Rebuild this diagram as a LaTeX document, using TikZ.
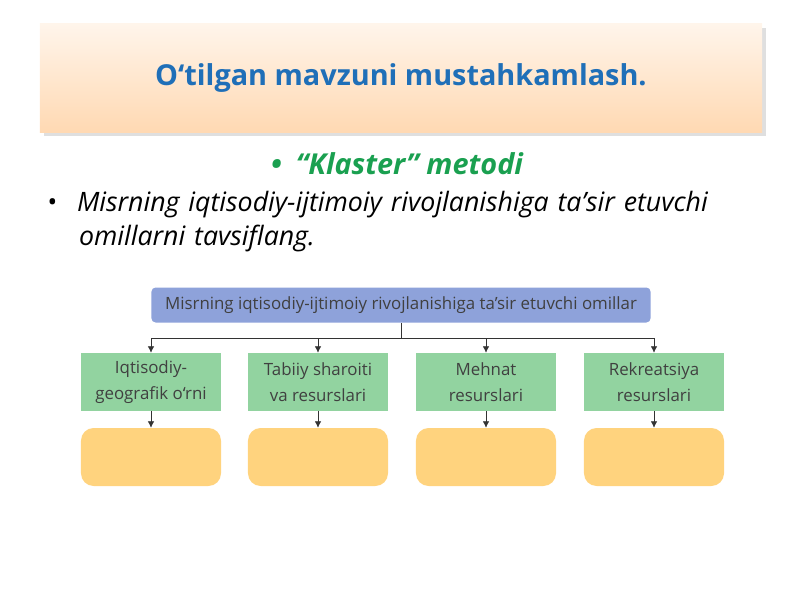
\documentclass[tikz,border=0pt]{standalone}
\usepackage{fontspec}
\setmainfont{Open Sans}
\usetikzlibrary{arrows.meta,shadows}
\definecolor{titleblue}{HTML}{1F6FB8}
\definecolor{klgreen}{HTML}{1AA050}
\definecolor{topblue}{HTML}{8EA2DA}
\definecolor{boxgreen}{HTML}{92D3A0}
\definecolor{boxyellow}{HTML}{FFD37E}
\tikzset{%
  >={Latex[width=1.6mm,length=1.6mm]},
  % node styles
  topbox/.style = {rectangle, rounded corners=3pt, fill=topblue,
                   minimum width=12.475cm, minimum height=0.875cm,
                   text=black!75, font=\fontsize{12}{14}\selectfont},
  greenbox/.style = {rectangle, fill=boxgreen, minimum width=3.5cm,
                     minimum height=1.45cm, align=center, text=black!75,
                     font=\fontsize{12}{18.5}\selectfont},
  yellowbox/.style = {rectangle, rounded corners=9pt, fill=boxyellow,
                      minimum width=3.5cm, minimum height=1.45cm}
}
\begin{document}
\begin{tikzpicture}[x=0.025cm, y=-0.025cm]
  \useasboundingbox (0,0) rectangle (800,599);
  % title
  \node (title) [rectangle, minimum width=18.05cm, minimum height=2.7cm,
    top color=orange!8, bottom color=orange!30, drop shadow={opacity=0.25},
    font=\fontsize{20.5}{24}\selectfont\bfseries, text=titleblue]
    at (401,78) {O‘tilgan mavzuni mustahkamlash.};
  \node (klaster) [font=\fontsize{20.5}{24}\selectfont\bfseries\itshape, text=klgreen]
    at (397,164) {•\hspace{0.5em}“Klaster” metodi};
  \node (task) [anchor=north west, align=left, text width=17.5cm,
    font=\fontsize{19}{24}\selectfont\itshape] at (42,186)
    {•\hspace{0.75em}Misrning iqtisodiy-ijtimoiy rivojlanishiga ta’sir etuvchi\\
     \hspace{1.2em}omillarni tavsiflang.};
  % diagram
  \node (main) [topbox] at (401,305) {Misrning iqtisodiy-ijtimoiy rivojlanishiga ta’sir etuvchi omillar};
  \node (g1) [greenbox] at (151,382) {Iqtisodiy-\\geografik o‘rni};
  \node (g2) [greenbox] at (318,382) {Tabiiy sharoiti\\va resurslari};
  \node (g3) [greenbox] at (486,382) {Mehnat\\resurslari};
  \node (g4) [greenbox] at (654,382) {Rekreatsiya\\resurslari};
  \node (y1) [yellowbox] at (151,457) {};
  \node (y2) [yellowbox] at (318,457) {};
  \node (y3) [yellowbox] at (486,457) {};
  \node (y4) [yellowbox] at (654,457) {};
  \coordinate (bar) at (0,338);
  \draw [black!80] (main.south) -- (main.south |- bar);
  \draw [black!80] (g1.north |- bar) -- (g4.north |- bar);
  \foreach \i in {1,...,4}{
    \draw [->, black!80] (g\i.north |- bar) -- (g\i.north);
    \draw [->, black!80] (g\i.south) -- (y\i.north);
  }
\end{tikzpicture}
\end{document}
